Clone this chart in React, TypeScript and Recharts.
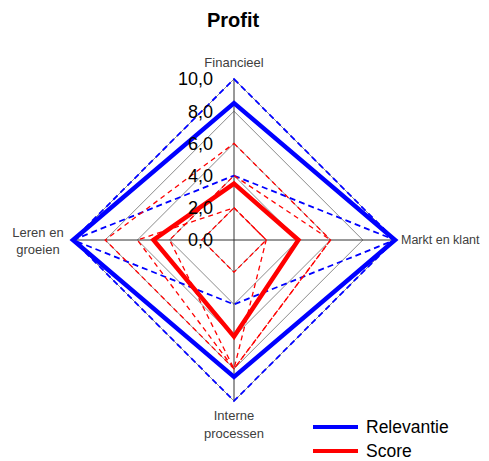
import { RadarChart, Radar, PolarGrid, PolarAngleAxis, PolarRadiusAxis } from "recharts";

const categories = ["Financieel", "Markt en klant", "Interne processen", "Leren en groeien"];
const radiusTicks = [0, 2, 4, 6, 8, 10];

// gemiddelden
const relevantie = [8.5, 10, 8.5, 10];
const score = [3.5, 4, 6, 5];

// losse antwoorden (gestippeld)
const relevantieHoog = [10, 10, 10, 10];
const relevantieLaag = [4, 10, 4, 10];
const scoreA = [6, 6, 8, 8];
const scoreB = [4, 6, 8, 4];
const scoreC = [2, 2, 8, 6];
const scoreD = [2, 2, 2, 2];

const data = categories.map((cat, i) => ({
  cat,
  relevantie: relevantie[i],
  score: score[i],
  relHoog: relevantieHoog[i],
  relLaag: relevantieLaag[i],
  scoreA: scoreA[i],
  scoreB: scoreB[i],
  scoreC: scoreC[i],
  scoreD: scoreD[i],
}));

const BLUE = "#0000ff";
const RED = "#ff0000";
const FONT = "Liberation Sans, Arial, sans-serif";

function AngleTick(props: any) {
  const { x, y, payload } = props;
  const style = { fontFamily: FONT, fontSize: 13, fill: "#404040" };
  switch (payload.value) {
    case "Financieel":
      return <text x={x} y={y - 4} textAnchor="middle" {...style}>Financieel</text>;
    case "Markt en klant":
      return <text x={x - 2} y={y} dy="0.35em" textAnchor="start" {...style} fontSize={12.5}>Markt en klant</text>;
    case "Interne processen":
      return (
        <text x={x} y={y + 11} textAnchor="middle" {...style}>
          <tspan x={x}>Interne</tspan>
          <tspan x={x} dy={18}>processen</tspan>
        </text>
      );
    default:
      return (
        <text x={x - 27} y={y - 3} textAnchor="middle" {...style}>
          <tspan x={x - 27}>Leren en</tspan>
          <tspan x={x - 27} dy={17}>groeien</tspan>
        </text>
      );
  }
}

function RadiusTick(props: any) {
  const { x, y, payload } = props;
  return (
    <text x={x - 21} y={y} dy="0.35em" textAnchor="end" fontFamily={FONT} fontSize={18} fill="#000">
      {Number(payload.value).toFixed(1).replace(".", ",")}
    </text>
  );
}

export default function App() {
  return (
    <div style={{ position: "relative", width: 481, height: 453, fontFamily: FONT }}>
      <div
        style={{
          position: "absolute",
          left: 175,
          top: 2,
          width: 100,
          textAlign: "center",
          fontSize: 20,
          lineHeight: "20px",
          fontWeight: "bold",
        }}
      >
        Profit
      </div>
      <RadarChart width={481} height={453} data={data} cx={226} cy={232} outerRadius={161} startAngle={90} endAngle={-270}>
        <PolarGrid gridType="polygon" radialLines={false} stroke="#8c8c8c" strokeWidth={1} />
        <PolarGrid gridType="polygon" radialLines polarRadius={[]} stroke="#333" strokeWidth={1} />
        <PolarAngleAxis dataKey="cat" tick={<AngleTick />} axisLine={false} tickLine={false} />
        <PolarRadiusAxis
          angle={90}
          domain={[0, 10]}
          ticks={radiusTicks as any}
          tickCount={6}
          tick={<RadiusTick />}
          axisLine={false}
          tickLine={false}
        />
        <Radar dataKey="relHoog" stroke={BLUE} strokeWidth={1.8} strokeDasharray="6 4" fill="none" fillOpacity={0} dot={false} isAnimationActive={false} legendType="none" />
        <Radar dataKey="relLaag" stroke={BLUE} strokeWidth={1.8} strokeDasharray="6 4" fill="none" fillOpacity={0} dot={false} isAnimationActive={false} legendType="none" />
        <Radar dataKey="scoreA" stroke={RED} strokeWidth={1.3} strokeDasharray="5 4" fill="none" fillOpacity={0} dot={false} isAnimationActive={false} legendType="none" />
        <Radar dataKey="scoreB" stroke={RED} strokeWidth={1.3} strokeDasharray="5 4" fill="none" fillOpacity={0} dot={false} isAnimationActive={false} legendType="none" />
        <Radar dataKey="scoreC" stroke={RED} strokeWidth={1.3} strokeDasharray="5 4" fill="none" fillOpacity={0} dot={false} isAnimationActive={false} legendType="none" />
        <Radar dataKey="scoreD" stroke={RED} strokeWidth={1.3} strokeDasharray="5 3" fill="none" fillOpacity={0} dot={false} isAnimationActive={false} legendType="none" />
        <Radar name="Relevantie" dataKey="relevantie" stroke={BLUE} strokeWidth={4.5} fill="none" fillOpacity={0} dot={false} isAnimationActive={false} />
        <Radar name="Score" dataKey="score" stroke={RED} strokeWidth={4.5} fill="none" fillOpacity={0} dot={false} isAnimationActive={false} />
      </RadarChart>
      <div style={{ position: "absolute", left: 305, top: 409 }}>
        {[
          { name: "Relevantie", color: BLUE },
          { name: "Score", color: RED },
        ].map((item, i) => (
          <div
            key={item.name}
            style={{ display: "flex", alignItems: "center", height: 20, lineHeight: "20px", marginTop: i ? 4 : 0, fontSize: 17.5, color: "#000" }}
          >
            <span style={{ display: "inline-block", width: 45, height: 4, background: item.color, marginRight: 8 }} />
            {item.name}
          </div>
        ))}
      </div>
    </div>
  );
}
